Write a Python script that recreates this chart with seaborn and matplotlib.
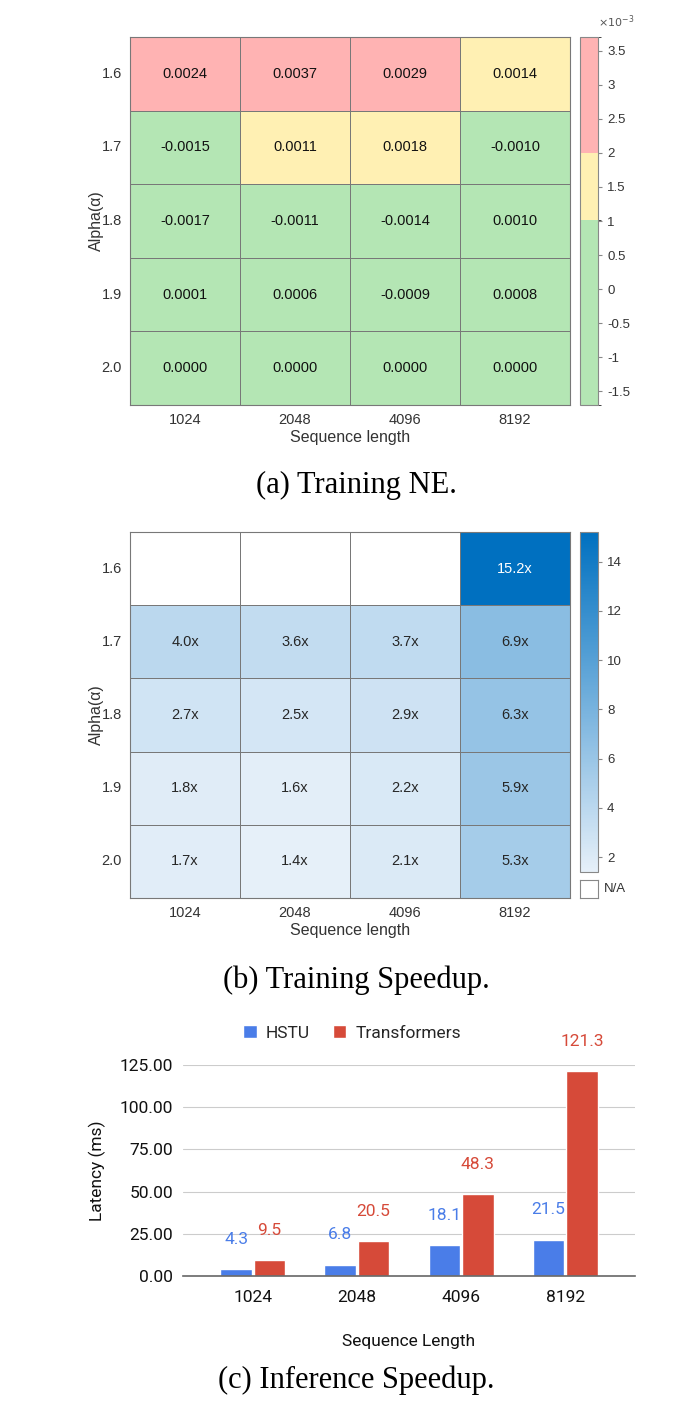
import numpy as np
import pandas as pd
import matplotlib
matplotlib.use("Agg")
import matplotlib.pyplot as plt
from matplotlib.colors import ListedColormap, BoundaryNorm, LinearSegmentedColormap
from matplotlib.ticker import FuncFormatter
import seaborn as sns

# data
seq_len = ["1024", "2048", "4096", "8192"]
alphas = ["1.6", "1.7", "1.8", "1.9", "2.0"]

ne_vals = [
    [0.0024, 0.0037, 0.0029, 0.0014],
    [-0.0015, 0.0011, 0.0018, -0.0010],
    [-0.0017, -0.0011, -0.0014, 0.0010],
    [0.0001, 0.0006, -0.0009, 0.0008],
    [0.0000, 0.0000, 0.0000, 0.0000],
]
ne_bounds = [-0.0017, 0.00101, 0.002, 0.0037]
ne_colors = ["#b4e6b4", "#fff0b3", "#ffb3b3"]

speedup_vals = [
    [np.nan, np.nan, np.nan, 15.2],
    [4.0, 3.6, 3.7, 6.9],
    [2.7, 2.5, 2.9, 6.3],
    [1.8, 1.6, 2.2, 5.9],
    [1.7, 1.4, 2.1, 5.3],
]

hstu_ms = [4.3, 6.8, 18.1, 21.5]
trans_ms = [9.5, 20.5, 48.3, 121.3]

sns.set_style("white")
plt.rcParams["font.family"] = ["Liberation Sans", "DejaVu Sans"]

W, H = 700, 1416
fig = plt.figure(figsize=(W / 100, H / 100), dpi=100)


def box(x0, y0, x1, y1):
    # pixel box -> figure fraction
    return [x0 / W, 1 - y1 / H, (x1 - x0) / W, (y1 - y0) / H]


grid_col = "#787878"

# (a) training NE
ax1 = fig.add_axes(box(130, 37, 570, 405))
cax1 = fig.add_axes(box(580, 37, 598, 405))
ne_df = pd.DataFrame(ne_vals, index=alphas, columns=seq_len)
ne_txt = ne_df.map(lambda v: f"{v:.4f}")
sns.heatmap(ne_df, ax=ax1, cbar_ax=cax1,
            cmap=ListedColormap(ne_colors),
            norm=BoundaryNorm(ne_bounds, 3),
            annot=ne_txt, fmt="", annot_kws={"size": 10.5, "color": "#111111"},
            linewidths=0.5, linecolor=grid_col,
            cbar_kws={"spacing": "proportional",
                      "ticks": np.arange(-0.0015, 0.0036, 0.0005)})
cax1.yaxis.set_major_formatter(FuncFormatter(lambda v, p: f"{v * 1000:g}"))
cax1.text(1.0, 1.02, r"$\times10^{-3}$", transform=cax1.transAxes,
          fontsize=8, color="#555555", va="bottom", ha="left")

# (b) training speedup
ax2 = fig.add_axes(box(130, 532, 570, 898))
cax2 = fig.add_axes(box(580, 532, 598, 872))
sp_df = pd.DataFrame(speedup_vals, index=alphas, columns=seq_len)
sp_txt = sp_df.map(lambda v: "" if np.isnan(v) else f"{v:.1f}x")
blues = LinearSegmentedColormap.from_list("bl", ["#e6f0f9", "#0070c0"])
sns.heatmap(sp_df, ax=ax2, cbar_ax=cax2, cmap=blues,
            annot=sp_txt, fmt="", annot_kws={"size": 10.5},
            linewidths=0.5, linecolor=grid_col,
            cbar_kws={"ticks": [2, 4, 6, 8, 10, 12, 14]})
nax = fig.add_axes(box(580, 880, 598, 898))
nax.set_xticks([])
nax.set_yticks([])
for s in nax.spines.values():
    s.set_color("#888888")
    s.set_linewidth(0.8)
nax.text(1.35, 0.5, "N/A", transform=nax.transAxes, fontsize=9.5,
         va="center", ha="left", color="#333333")

for ax, cax in [(ax1, cax1), (ax2, cax2)]:
    ax.tick_params(length=0, labelsize=10.5, labelcolor="#333333", pad=6)
    ax.set_yticklabels(alphas, rotation=0)
    ax.set_xlabel("Sequence length", fontsize=11.5, color="#333333", labelpad=2)
    ax.set_ylabel("Alpha(α)", fontsize=11.5, color="#333333", labelpad=-2)
    for s in ax.spines.values():
        s.set_visible(True)
        s.set_color(grid_col)
        s.set_linewidth(0.8)
    cax.tick_params(labelsize=9.5, labelcolor="#333333", length=3, color="#888888")
    cb = ax.collections[0].colorbar
    cb.outline.set_edgecolor("#888888")
    cb.outline.set_linewidth(0.8)

# (c) inference speedup
ax3 = fig.add_axes(box(183, 1065, 635, 1276))
bars = pd.DataFrame({
    "seq": seq_len * 2,
    "ms": hstu_ms + trans_ms,
    "model": ["HSTU"] * 4 + ["Transformers"] * 4,
})
pal = {"HSTU": "#4a7de8", "Transformers": "#d64a39"}
sns.barplot(data=bars, x="seq", y="ms", hue="model", palette=pal, ax=ax3,
            width=0.64, gap=0.05, saturation=1)
roboto = ["Roboto", "Liberation Sans"]
for cont, name in zip(ax3.containers, ["HSTU", "Transformers"]):
    ax3.bar_label(cont, fmt="%.1f", padding=16, color=pal[name],
                  fontsize=12.5, family=roboto)
ax3.set_xlim(-0.67, 3.67)
ax3.set_ylim(0, 125)
ax3.set_yticks([0, 25, 50, 75, 100, 125])
ax3.yaxis.set_major_formatter(FuncFormatter(lambda v, p: f"{v:.2f}"))
ax3.grid(axis="y", color="#cccccc", linewidth=0.8)
ax3.set_axisbelow(True)
for s in ["top", "right", "left"]:
    ax3.spines[s].set_visible(False)
ax3.spines["bottom"].set_color("#666666")
ax3.spines["bottom"].set_linewidth(1.2)
ax3.tick_params(length=0, labelsize=12.5, labelcolor="#111111")
ax3.tick_params(axis="y", pad=7)
ax3.tick_params(axis="x", pad=10)
for t in ax3.get_xticklabels() + ax3.get_yticklabels():
    t.set_family(roboto)
ax3.set_xlabel("Sequence Length", fontsize=12.5, color="#111111", labelpad=21,
               family=roboto)
ax3.set_ylabel("Latency (ms)", fontsize=12.5, color="#111111", labelpad=10,
               family=roboto)
ax3.legend(loc="center", bbox_to_anchor=(0.374, 1 + 32 / 211), ncol=2,
           frameon=False, prop={"family": roboto, "size": 12.5},
           handlelength=0.8, handleheight=0.8,
           handletextpad=0.5, columnspacing=1.3)

# captions
cap = {"family": ["Liberation Serif", "DejaVu Serif"], "fontsize": 22, "color": "black"}
fig.text(356 / W, 1 - 485 / H, "(a) Training NE.", ha="center", va="center", **cap)
fig.text(356 / W, 1 - 980 / H, "(b) Training Speedup.", ha="center", va="center", **cap)
fig.text(356 / W, 1 - 1380 / H, "(c) Inference Speedup.", ha="center", va="center", **cap)

fig.savefig("out.png", dpi=100, facecolor="white")
